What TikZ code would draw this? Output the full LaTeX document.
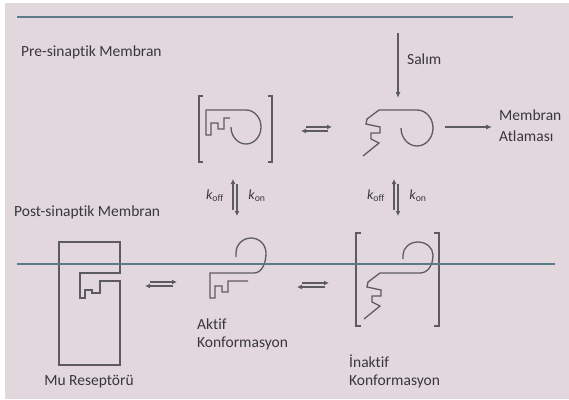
\documentclass[tikz,border=0pt]{standalone}
\usepackage{fontspec}
\setmainfont[Ligatures={NoCommon}]{Carlito}
\usetikzlibrary{arrows.meta}
\definecolor{paper}{RGB}{226,215,221}
\definecolor{ink}{RGB}{92,92,94}
\definecolor{txt}{RGB}{55,55,58}
\definecolor{membrane}{RGB}{92,122,138}
\tikzset{
  keyline/.style={draw=ink, line width=1.3pt, line join=miter},
  bracketline/.style={draw=ink, line width=1.2pt},
  membraneline/.style={draw=membrane, line width=2pt},
  arrowline/.style={draw=ink, line width=1.1pt, -{Latex[length=6pt,width=5pt]}},
  eqline/.style={draw=ink, line width=1.1pt, -{Latex[length=5pt,width=5pt]}},
  label/.style={text=txt, font=\fontsize{15.5}{18}\selectfont, inner sep=0pt},
  rate/.style={text=txt, font=\fontsize{14}{16}\selectfont, inner sep=0pt}
}
\begin{document}
\begin{tikzpicture}[x=1pt,y=-1pt]
\useasboundingbox (0,0) rectangle (569,399);
\fill[white] (0,0) rectangle (569,399);
\fill[paper] (5,3) rectangle (569,399);

% membranes
\draw[membraneline] (17,17) -- (513,17);

% pre-synaptic side: bound key in brackets
\draw[keyline, shift={(206,110)}] (24,8) -- (18,8) -- (18,19) -- (12,19) -- (12,13) -- (5,13) -- (5,25) -- (0,25) -- (0,0) -- (40,0)
  arc[start angle=-90, end angle=180, x radius=15, y radius=17];
\draw[bracketline] (203,96) -- (199,96) -- (199,162) -- (203,162);
\draw[bracketline] (268,96) -- (272,96) -- (272,162) -- (268,162);

% pre-synaptic side: inactive key
\draw[keyline, shift={(379,110)}] (-16,46) -- (0,33) -- (-8,29) -- (-8,23) -- (1,23) -- (1,17) -- (-13,14) -- (-12,9) -- (0,0) -- (38,0)
  arc[start angle=-90, end angle=180, x radius=16, y radius=18];

% post-synaptic side: receptor
\draw[keyline] (59,242) -- (120,242) -- (120,273) -- (80,273) -- (80,298) -- (85,298) -- (85,290) -- (92,290) -- (92,293) -- (100,293) -- (100,281) -- (120,281) -- (120,365) -- (59,365) -- cycle;

% post-synaptic side: active key
\draw[keyline, shift={(210,273)}] (38,8) -- (18,8) -- (18,19) -- (12,19) -- (12,13) -- (5,13) -- (5,25) -- (0,25) -- (0,0) -- (44,0)
  .. controls (52,0) and (56,-10) .. (56,-20)
  arc[start angle=0, end angle=-180, radius=15] -- ++(0,4);

% post-synaptic side: inactive key in brackets
\draw[keyline, shift={(380,273)}] (-16,46) -- (0,33) -- (-8,29) -- (-8,23) -- (1,23) -- (1,17) -- (-13,14) -- (-12,9) -- (0,0) -- (40,0)
  .. controls (48,0) and (53,-8) .. (53,-18)
  arc[start angle=0, end angle=-180, x radius=15, y radius=13] -- ++(0,4);
\draw[bracketline] (361,233) -- (356,233) -- (356,326) -- (361,326);
\draw[bracketline] (434,233) -- (439,233) -- (439,326) -- (434,326);

\draw[membraneline] (17,264) -- (555,264);

% arrow end points
\coordinate (salimA) at (398,33);
\coordinate (salimB) at (398,98);
\coordinate (leapA) at (445,127);
\coordinate (leapB) at (492,127);

\coordinate (eqTa) at (306,127); \coordinate (eqTb) at (332,127);
\coordinate (eqTc) at (328,131); \coordinate (eqTd) at (301,131);
\coordinate (eqLa) at (150,282); \coordinate (eqLb) at (177,282);
\coordinate (eqLc) at (173,286); \coordinate (eqLd) at (145,286);
\coordinate (eqMa) at (302,283); \coordinate (eqMb) at (329,283);
\coordinate (eqMc) at (325,287); \coordinate (eqMd) at (297,287);

\coordinate (vLa) at (233,210); \coordinate (vLb) at (233,179);
\coordinate (vLc) at (237,184); \coordinate (vLd) at (237,216);
\coordinate (vRa) at (394,210); \coordinate (vRb) at (394,179);
\coordinate (vRc) at (398,184); \coordinate (vRd) at (398,216);

\draw[arrowline] (salimA) -- (salimB);
\draw[arrowline] (leapA) -- (leapB);
\foreach \e in {T,L,M}{
  \draw[eqline] (eq\e a) -- (eq\e b);
  \draw[eqline] (eq\e c) -- (eq\e d);
}
\foreach \e in {L,R}{
  \draw[eqline] (v\e a) -- (v\e b);
  \draw[eqline] (v\e c) -- (v\e d);
}

% labels
\node[label, anchor=west] (pre) at (21,52) {Pre-sinaptik Membran};
\node[label, anchor=west] (post) at (14,212) {Post-sinaptik Membran};
\node[label, anchor=west] (salim) at (407,59) {Salım};
\node[label, anchor=west] (leap1) at (499,115) {Membran};
\node[label, anchor=west] (leap2) at (499,136) {Atlaması};
\node[label] (mu) at (89,382) {Mu Reseptörü};
\node[label, anchor=west] (akt1) at (197,324) {Aktif};
\node[label, anchor=west] (akt2) at (197,343) {Konformasyon};
\node[label, anchor=west] (ina1) at (349,361) {İnaktif};
\node[label, anchor=west] (ina2) at (349,381) {Konformasyon};

\node[rate] (koffL) at (215,196) {\itshape k\upshape\textsubscript{off}};
\node[rate] (konL) at (257,196) {\itshape k\upshape\textsubscript{on}};
\node[rate] (koffR) at (376,196) {\itshape k\upshape\textsubscript{off}};
\node[rate] (konR) at (418,196) {\itshape k\upshape\textsubscript{on}};
\end{tikzpicture}
\end{document}
